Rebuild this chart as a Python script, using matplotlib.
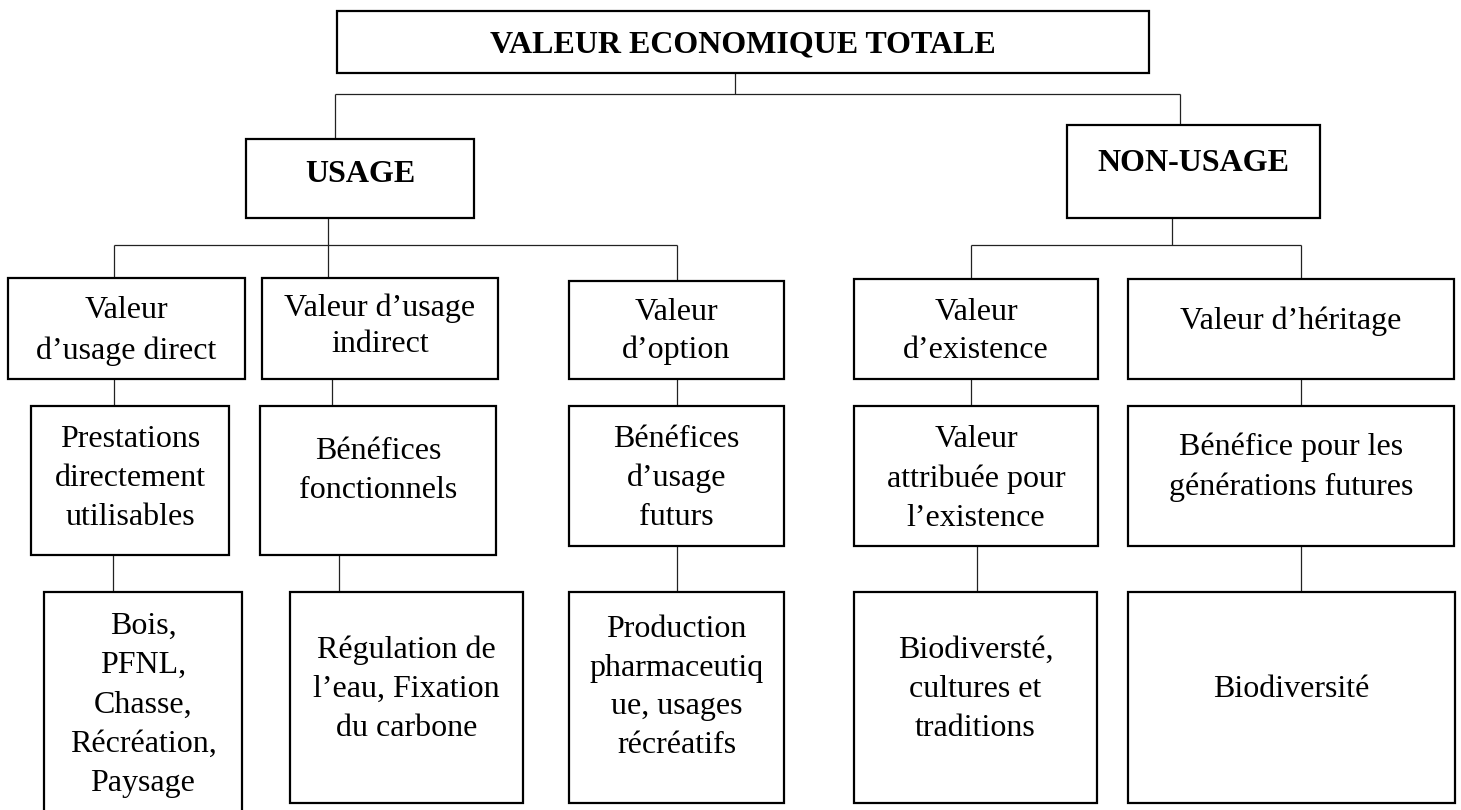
import matplotlib
matplotlib.use("Agg")
import matplotlib.pyplot as plt
from matplotlib.patches import Rectangle

# ---- content (labels) ----
title = "VALEUR ECONOMIQUE TOTALE"
branches = ["USAGE", "NON-USAGE"]
value_types = [
    ["Valeur", "d\u2019usage direct"],
    ["Valeur d\u2019usage", "indirect"],
    ["Valeur", "d\u2019option"],
    ["Valeur", "d\u2019existence"],
    ["Valeur d\u2019h\u00e9ritage"],
]
benefits = [
    ["Prestations", "directement", "utilisables"],
    ["B\u00e9n\u00e9fices", "fonctionnels"],
    ["B\u00e9n\u00e9fices", "d\u2019usage", "futurs"],
    ["Valeur", "attribu\u00e9e pour", "l\u2019existence"],
    ["B\u00e9n\u00e9fice pour les", "g\u00e9n\u00e9rations futures"],
]
examples = [
    ["Bois,", "PFNL,", "Chasse,", "R\u00e9cr\u00e9ation,", "Paysage"],
    ["R\u00e9gulation de", "l\u2019eau, Fixation", "du carbone"],
    ["Production", "pharmaceutiq", "ue, usages", "r\u00e9cr\u00e9atifs"],
    ["Biodivers\u00e9,".replace("\u00e9,", "t\u00e9,"), "cultures et", "traditions"],
    ["Biodiversit\u00e9"],
]

# ---- layout (pixel coordinates: x0, y0, x1, y1) ----
title_box = (337, 11, 1149, 73)
branch_boxes = [(246, 139, 474, 218), (1067, 125, 1320, 218)]
value_boxes = [(8, 278, 245, 379), (262, 278, 498, 379), (569, 281, 784, 379),
               (854, 279, 1098, 379), (1128, 279, 1454, 379)]
benefit_boxes = [(31, 406, 229, 555), (260, 406, 496, 555), (569, 406, 784, 546),
                 (854, 406, 1098, 546), (1128, 406, 1454, 546)]
example_boxes = [(44, 592, 242, 830), (290, 592, 523, 803), (569, 592, 784, 803),
                 (854, 592, 1097, 803), (1128, 592, 1455, 803)]

title_base = 52
branch_base = [182, 171]
value_base = [(318, 41), (316, 36), (320, 38), (320, 38), (329, 0)]
benefit_base = [(447, 39), (459, 39), (447, 39), (447, 39.5), (455, 40)]
example_base = [(634, 39.3), (658, 39), (637, 38.7), (658, 39), (697, 0)]

connectors = [
    # (x0, y0, x1, y1)
    (735, 73, 735, 94), (335, 94, 1180, 94), (335, 94, 335, 139), (1180, 94, 1180, 125),
    (328, 218, 328, 245), (114, 245, 677, 245),
    (114, 245, 114, 278), (328, 245, 328, 278), (677, 245, 677, 281),
    (1172, 218, 1172, 245), (971, 245, 1301, 245),
    (971, 245, 971, 279), (1301, 245, 1301, 279),
    (114, 379, 114, 406), (332, 379, 332, 406), (677, 379, 677, 406),
    (971, 379, 971, 406), (1301, 379, 1301, 406),
    (113, 555, 113, 592), (339, 555, 339, 592), (677, 546, 677, 592),
    (977, 546, 977, 592), (1301, 546, 1301, 592),
]

FONT = "Liberation Serif"
FS = 23

fig = plt.figure(figsize=(14.61, 8.10), dpi=100)
ax = fig.add_axes([0, 0, 1, 1])
ax.set_xlim(0, 1461)
ax.set_ylim(810, 0)
ax.axis("off")

for x0, y0, x1, y1 in connectors:
    ax.plot([x0, x1], [y0, y1], color="#222222", lw=0.9, solid_capstyle="butt")


def box(b):
    x0, y0, x1, y1 = b
    ax.add_patch(Rectangle((x0, y0), x1 - x0, y1 - y0, fill=True, facecolor="white",
                           edgecolor="black", lw=1.6, zorder=3))


def lines(b, texts, base, step, bold=False):
    cx = (b[0] + b[2]) / 2
    for i, t in enumerate(texts):
        ax.text(cx, base + i * step, t, ha="center", va="baseline", fontsize=FS,
                family=FONT, fontweight="bold" if bold else "normal", zorder=4)


box(title_box)
lines(title_box, [title], title_base, 0, bold=True)
for b, t, base in zip(branch_boxes, branches, branch_base):
    box(b)
    lines(b, [t], base, 0, bold=True)
for b, t, (base, st) in zip(value_boxes, value_types, value_base):
    box(b)
    lines(b, t, base, st)
for b, t, (base, st) in zip(benefit_boxes, benefits, benefit_base):
    box(b)
    lines(b, t, base, st)
for b, t, (base, st) in zip(example_boxes, examples, example_base):
    box(b)
    lines(b, t, base, st)

fig.savefig("out.png", dpi=100, facecolor="white")
